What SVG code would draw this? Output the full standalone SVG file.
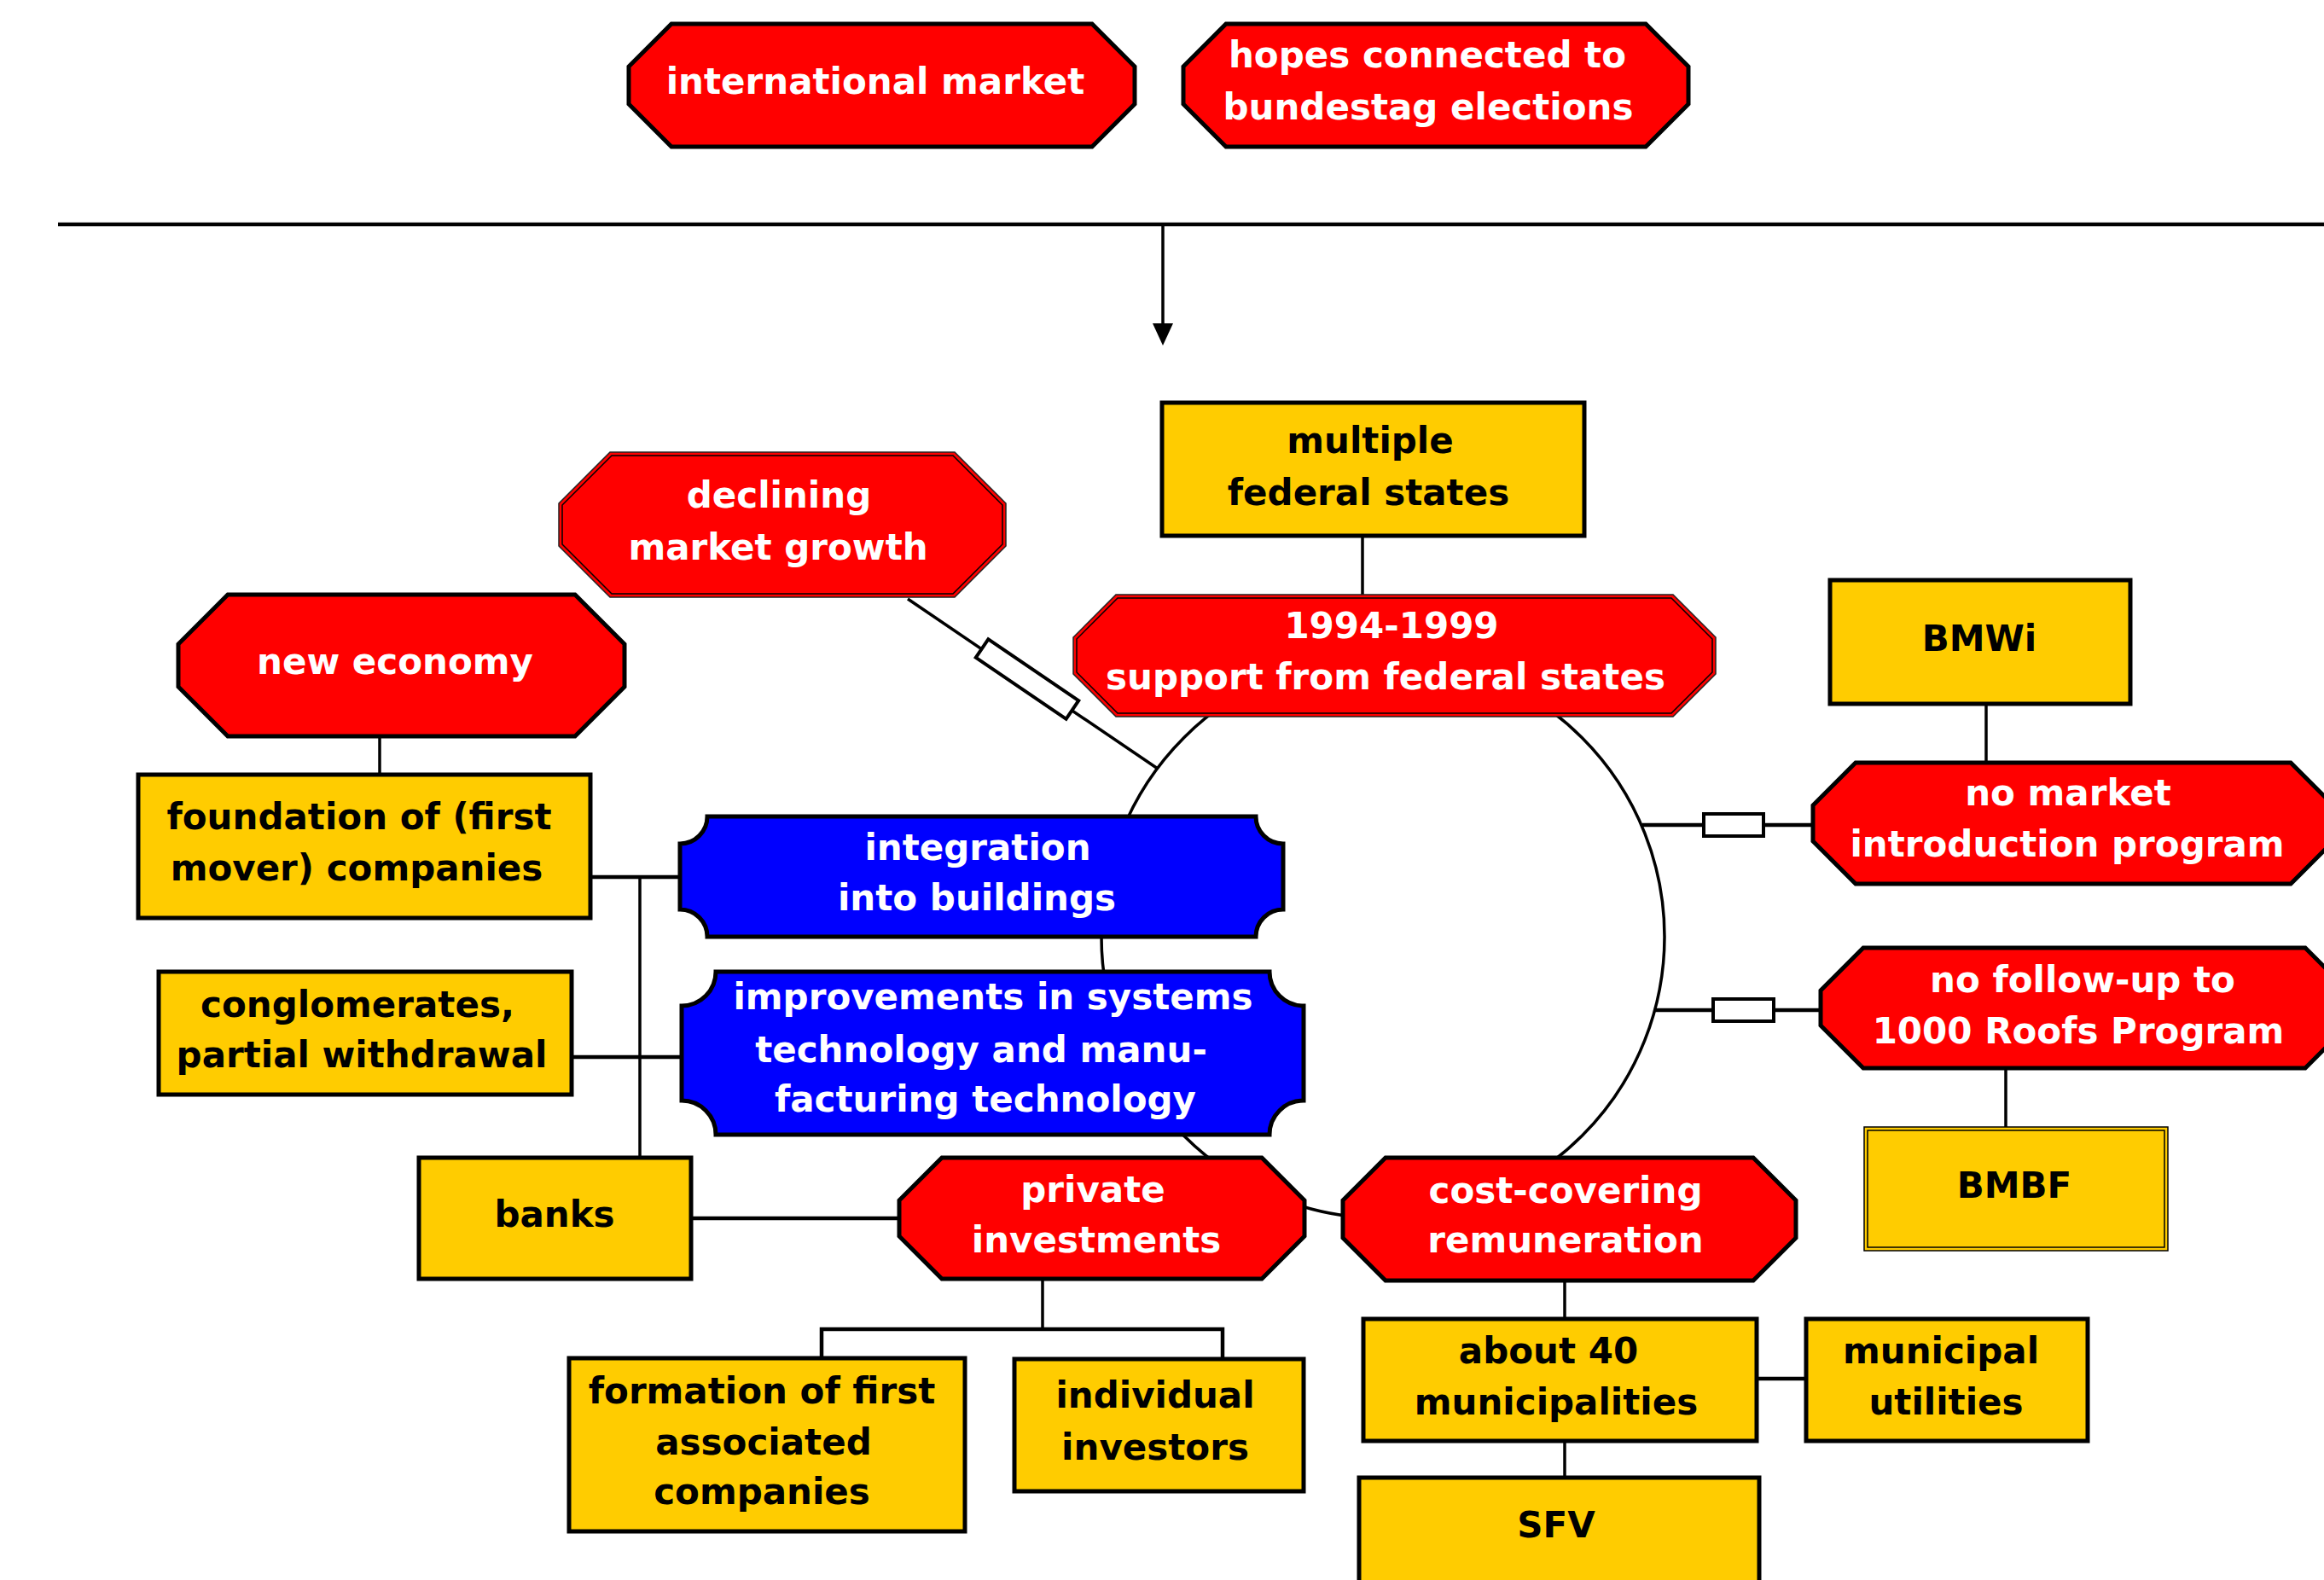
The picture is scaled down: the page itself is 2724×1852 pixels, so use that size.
<svg xmlns="http://www.w3.org/2000/svg" width="2724" height="1852" viewBox="0 0 2724 1852">
<style>
text{font-family:"DejaVu Sans","Verdana",sans-serif;font-weight:bold;font-size:42px;text-anchor:middle}
.w{fill:#ffffff}
.k{fill:#000000}
.red{fill:#ff0000;stroke:#000;stroke-width:5;stroke-linejoin:miter}
.red2{fill:#ff0000;stroke:#222;stroke-width:1.5}
.in{fill:none;stroke:#000;stroke-width:1.5}
.yel{fill:#ffcc00;stroke:#000;stroke-width:5}
.yel2{fill:#ffcc00;stroke:#000;stroke-width:1.5}
.blue{fill:#0000ff;stroke:#000;stroke-width:5}
.ln{fill:none;stroke:#000;stroke-width:4.5}
.thin{fill:none;stroke:#000;stroke-width:3.5}
.res{fill:#fff;stroke:#000;stroke-width:4}
</style>
<rect width="2724" height="1852" fill="#fff"/>
<g id="connectors">
<circle class="thin" cx="1621" cy="1098" r="330"/>
<line class="ln" x1="68" y1="263" x2="2724" y2="263"/>
<line class="thin" x1="1363" y1="263" x2="1363" y2="385"/>
<polygon points="1351,379 1375,379 1363,405" fill="#000"/>
<line class="thin" x1="1597" y1="628" x2="1597" y2="697"/>
<line class="thin" x1="1064" y1="702" x2="1357" y2="901"/>
<rect class="res" x="-64" y="-13" width="128" height="26" transform="translate(1204,796) rotate(34.2)"/>
<line class="thin" x1="445" y1="863" x2="445" y2="908"/>
<line class="ln" x1="692" y1="1028" x2="797" y2="1028"/>
<line class="thin" x1="750" y1="1028" x2="750" y2="1357"/>
<line class="ln" x1="670" y1="1239" x2="799" y2="1239"/>
<line class="ln" x1="810" y1="1428" x2="1054" y2="1428"/>
<line class="ln" x1="1925" y1="967" x2="2125" y2="967"/>
<rect class="res" x="1997" y="954" width="70" height="26"/>
<line class="thin" x1="2328" y1="825" x2="2328" y2="894"/>
<line class="ln" x1="1940" y1="1184" x2="2134" y2="1184"/>
<rect class="res" x="2008" y="1171" width="71" height="26"/>
<line class="thin" x1="2351" y1="1252" x2="2351" y2="1321"/>
<line class="thin" x1="1222" y1="1499" x2="1222" y2="1558"/>
<polyline class="ln" points="963,1592 963,1558 1433,1558 1433,1593"/>
<line class="thin" x1="1834" y1="1501" x2="1834" y2="1546"/>
<line class="ln" x1="2059" y1="1616" x2="2117" y2="1616"/>
<line class="thin" x1="1834" y1="1689" x2="1834" y2="1732"/>
</g>
<g id="n-international-market">
<polygon class="red" points="787,28 1280,28 1330,78 1330,122 1280,172 787,172 737,122 737,78"/>
<text class="w" x="1026" y="110">international market</text>
</g>
<g id="n-hopes">
<polygon class="red" points="1437,28 1929,28 1979,78 1979,122 1929,172 1437,172 1387,122 1387,78"/>
<text class="w" x="1673" y="79">hopes connected to</text>
<text class="w" x="1674" y="140">bundestag elections</text>
</g>
<g id="n-declining">
<polygon class="red2" points="715,530 1119,530 1179,590 1179,640 1119,700 715,700 655,640 655,590"/>
<polygon class="in" points="717,534 1117,534 1175,592 1175,638 1117,696 717,696 659,638 659,592"/>
<text class="w" x="913" y="595">declining</text>
<text class="w" x="912" y="656">market growth</text>
</g>
<g id="n-multiple">
<rect class="yel" x="1362" y="472" width="495" height="156"/>
<text class="k" x="1606" y="531">multiple</text>
<text class="k" x="1604" y="592">federal states</text>
</g>
<g id="n-1994">
<polygon class="red2" points="1308,697 1961,697 2011,747 2011,790 1961,840 1308,840 1258,790 1258,747"/>
<polygon class="in" points="1310,701 1959,701 2007,749 2007,788 1959,836 1310,836 1262,788 1262,749"/>
<text class="w" x="1631" y="748">1994-1999</text>
<text class="w" x="1624" y="808">support from federal states</text>
</g>
<g id="n-new-economy">
<polygon class="red" points="267,697 674,697 732,755 732,805 674,863 267,863 209,805 209,755"/>
<text class="w" x="463" y="790">new economy</text>
</g>
<g id="n-bmwi">
<rect class="yel" x="2145" y="680" width="352" height="145"/>
<text class="k" x="2320" y="763">BMWi</text>
</g>
<g id="n-foundation">
<rect class="yel" x="162" y="908" width="530" height="168"/>
<text class="k" x="421" y="972">foundation of (first</text>
<text class="k" x="418" y="1032">mover) companies</text>
</g>
<g id="n-integration">
<path class="blue" d="M829,957 H1472 A32,32 0 0 0 1504,989 V1066 A32,32 0 0 0 1472,1098 H829 A32,32 0 0 0 797,1066 V989 A32,32 0 0 0 829,957 Z"/>
<text class="w" x="1146" y="1008">integration</text>
<text class="w" x="1145" y="1067">into buildings</text>
</g>
<g id="n-no-market">
<polygon class="red" points="2175,894 2685,894 2735,944 2735,986 2685,1036 2175,1036 2125,986 2125,944"/>
<text class="w" x="2424" y="944">no market</text>
<text class="w" x="2423" y="1004">introduction program</text>
</g>
<g id="n-conglomerates">
<rect class="yel" x="186" y="1139" width="484" height="144"/>
<text class="k" x="419" y="1192">conglomerates,</text>
<text class="k" x="424" y="1251">partial withdrawal</text>
</g>
<g id="n-improvements">
<path class="blue" d="M839,1139 H1488 A40,40 0 0 0 1528,1179 V1290 A40,40 0 0 0 1488,1330 H839 A40,40 0 0 0 799,1290 V1179 A40,40 0 0 0 839,1139 Z"/>
<text class="w" x="1164" y="1183">improvements in systems</text>
<text class="w" x="1150" y="1245">technology and manu-</text>
<text class="w" x="1155" y="1303">facturing technology</text>
</g>
<g id="n-no-follow-up">
<polygon class="red" points="2184,1111 2702,1111 2752,1161 2752,1202 2702,1252 2184,1252 2134,1202 2134,1161"/>
<text class="w" x="2441" y="1163">no follow-up to</text>
<text class="w" x="2436" y="1223">1000 Roofs Program</text>
</g>
<g id="n-bmbf">
<rect class="yel2" x="2185" y="1321" width="356" height="145"/>
<rect class="in" x="2189" y="1325" width="348" height="137"/>
<text class="k" x="2361" y="1404">BMBF</text>
</g>
<g id="n-banks">
<rect class="yel" x="491" y="1357" width="319" height="142"/>
<text class="k" x="650" y="1438">banks</text>
</g>
<g id="n-private">
<polygon class="red" points="1104,1357 1479,1357 1529,1407 1529,1449 1479,1499 1104,1499 1054,1449 1054,1407"/>
<text class="w" x="1281" y="1409">private</text>
<text class="w" x="1285" y="1468">investments</text>
</g>
<g id="n-cost-covering">
<polygon class="red" points="1624,1357 2055,1357 2105,1407 2105,1451 2055,1501 1624,1501 1574,1451 1574,1407"/>
<text class="w" x="1835" y="1410">cost-covering</text>
<text class="w" x="1835" y="1468">remuneration</text>
</g>
<g id="n-formation">
<rect class="yel" x="667" y="1592" width="464" height="203"/>
<text class="k" x="893" y="1645">formation of first</text>
<text class="k" x="895" y="1705">associated</text>
<text class="k" x="893" y="1763">companies</text>
</g>
<g id="n-individual">
<rect class="yel" x="1189" y="1593" width="339" height="155"/>
<text class="k" x="1354" y="1650">individual</text>
<text class="k" x="1354" y="1711">investors</text>
</g>
<g id="n-about-40">
<rect class="yel" x="1598" y="1546" width="461" height="143"/>
<text class="k" x="1815" y="1598">about 40</text>
<text class="k" x="1824" y="1658">municipalities</text>
</g>
<g id="n-municipal">
<rect class="yel" x="2117" y="1546" width="330" height="143"/>
<text class="k" x="2275" y="1598">municipal</text>
<text class="k" x="2281" y="1658">utilities</text>
</g>
<g id="n-sfv">
<rect class="yel" x="1593" y="1732" width="469" height="135"/>
<text class="k" x="1824" y="1802">SFV</text>
</g>
</svg>
